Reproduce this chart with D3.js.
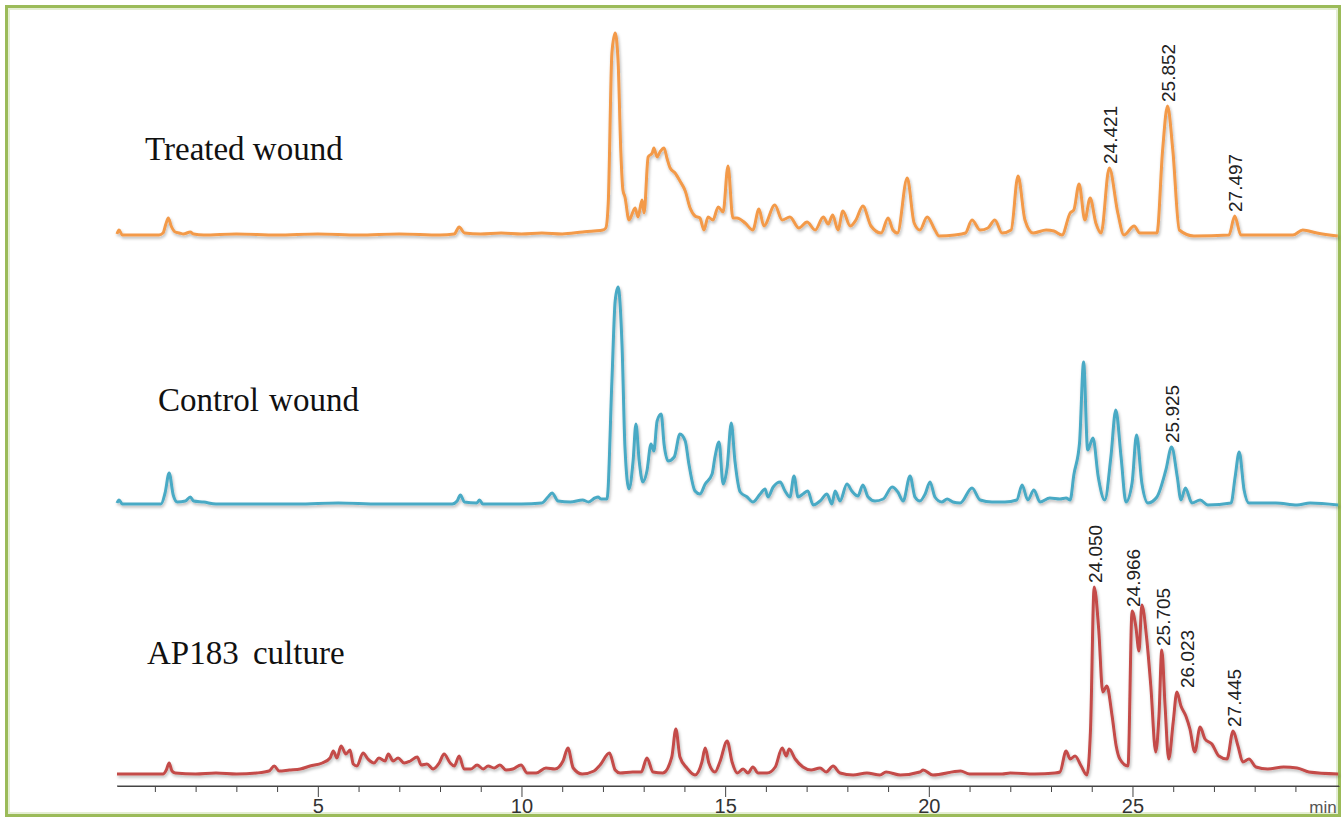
<!DOCTYPE html>
<html><head><meta charset="utf-8">
<script src="https://cdn.jsdelivr.net/npm/d3@7"></script>
<style>body{margin:0;background:#fff;} svg{display:block}</style>
</head><body><svg id="c" width="1344" height="820"></svg>
<script>
// ---- data (retention time in min, detector response in arbitrary units) ----
const sampleNames = ["Treated wound", "Control wound", "AP183 culture"];

const treated = [[0.07,2],[0.12,6],[0.2,1],[1.1,1],[1.2,3],[1.27,12],[1.33,18],[1.4,10],[1.5,4],[1.6,3],[1.7,2],[1.87,4],[1.95,2],[2.2,1],[3.0,2],[4.0,1],[5.0,2],[6.0,1],[7.0,2],[8.0,1],[8.35,2],[8.47,9],[8.6,3],[9.0,2],[9.5,3],[10.0,2],[10.5,3],[11.0,2],[11.5,4],[11.78,5],[12.0,6],[12.07,8],[12.13,33],[12.22,183],[12.30,203],[12.37,176],[12.44,83],[12.49,46],[12.54,39],[12.64,16],[12.79,28],[12.86,19],[12.96,36],[13.01,23],[13.11,79],[13.21,83],[13.25,88],[13.33,79],[13.40,84],[13.50,88],[13.57,78],[13.65,68],[13.77,63],[13.89,55],[14.02,45],[14.14,28],[14.26,20],[14.38,18],[14.48,6],[14.58,19],[14.70,16],[14.83,29],[14.95,24],[15.07,70],[15.19,18],[15.29,18],[15.49,13],[15.68,6],[15.83,27],[15.95,10],[16.22,31],[16.40,16],[16.59,19],[16.81,8],[17.01,14],[17.21,6],[17.41,19],[17.53,12],[17.64,21],[17.77,6],[17.89,25],[18.07,10],[18.21,16],[18.38,30],[18.58,10],[18.83,3],[19.00,18],[19.12,6],[19.23,3],[19.47,58],[19.64,13],[19.78,6],[19.96,19],[20.15,6],[20.25,0],[20.64,1],[20.9,3],[21.06,16],[21.26,6],[21.45,8],[21.62,16],[21.80,3],[22.02,6],[22.19,60],[22.36,16],[22.56,3],[22.88,6],[23.07,5],[23.27,1],[23.47,23],[23.56,26],[23.69,52],[23.83,16],[23.96,38],[24.10,13],[24.23,3],[24.43,68],[24.64,23],[24.79,1],[25.04,10],[25.18,3],[25.60,3],[25.74,86],[25.86,130],[25.99,86],[26.15,6],[26.51,0],[27.37,1],[27.51,20],[27.66,1],[28.94,1],[29.18,6],[29.53,3],[30.04,0]];

const control = [[0.07,2],[0.12,5],[0.2,1],[1.15,1],[1.25,12],[1.35,32],[1.45,10],[1.55,3],[1.75,4],[1.87,8],[1.95,4],[2.2,3],[2.5,1],[3.5,1],[4.5,1],[5.5,2],[6.5,1],[7.5,1],[8.3,1],[8.42,4],[8.5,10],[8.6,3],[8.9,2],[8.97,5],[9.05,1],[10.0,1],[10.5,2],[10.65,8],[10.75,12],[10.9,4],[11.2,3],[11.5,5],[11.65,3],[11.8,7],[11.88,8],[11.95,6],[12.10,6],[12.22,124],[12.30,204],[12.37,218],[12.47,158],[12.54,58],[12.64,16],[12.74,44],[12.81,81],[12.89,44],[12.98,23],[13.08,34],[13.18,61],[13.25,54],[13.33,84],[13.43,91],[13.50,61],[13.60,44],[13.75,48],[13.89,71],[14.02,64],[14.11,41],[14.26,14],[14.38,11],[14.51,21],[14.68,31],[14.75,48],[14.85,63],[14.95,21],[15.05,38],[15.15,82],[15.24,44],[15.37,13],[15.54,8],[15.68,3],[15.86,11],[15.98,16],[16.05,8],[16.18,18],[16.35,23],[16.47,14],[16.59,8],[16.69,29],[16.79,8],[16.91,11],[17.03,14],[17.16,0],[17.33,4],[17.50,11],[17.62,1],[17.70,14],[17.82,4],[17.99,21],[18.11,14],[18.26,9],[18.38,20],[18.51,8],[18.68,4],[18.88,6],[19.10,18],[19.24,13],[19.37,4],[19.54,29],[19.66,8],[19.78,4],[19.91,11],[20.03,23],[20.15,8],[20.32,3],[20.45,6],[20.59,3],[20.77,2],[21.06,17],[21.26,5],[21.55,3],[21.87,3],[22.16,5],[22.29,20],[22.43,5],[22.58,15],[22.73,3],[22.97,7],[23.22,6],[23.37,7],[23.47,5],[23.56,30],[23.70,62],[23.80,143],[23.90,55],[24.03,67],[24.16,28],[24.32,5],[24.47,48],[24.59,95],[24.72,48],[24.84,3],[24.99,22],[25.10,70],[25.23,22],[25.38,2],[25.60,8],[25.82,35],[25.96,58],[26.10,28],[26.19,5],[26.30,17],[26.46,2],[26.66,5],[26.85,0],[27.42,2],[27.52,28],[27.62,53],[27.74,15],[27.86,2],[28.52,2],[29.04,0],[29.36,2],[30.05,0]];

const culture = [[0.07,1],[1.2,1],[1.28,5],[1.35,12],[1.42,4],[1.5,2],[2.0,1],[2.5,2],[3.0,1],[3.5,2],[3.8,4],[3.93,9],[4.05,4],[4.3,5],[4.57,6],[4.81,9],[5.11,12],[5.30,17],[5.38,24],[5.47,17],[5.57,29],[5.69,21],[5.79,25],[5.87,11],[5.96,9],[6.11,22],[6.23,16],[6.38,12],[6.50,17],[6.65,14],[6.73,21],[6.85,14],[6.97,17],[7.12,12],[7.27,14],[7.44,18],[7.54,10],[7.68,11],[7.83,6],[7.98,12],[8.10,21],[8.25,12],[8.35,9],[8.47,19],[8.59,6],[8.76,6],[8.91,10],[9.06,6],[9.18,9],[9.33,7],[9.47,10],[9.62,5],[9.79,6],[9.99,10],[10.14,2],[10.36,2],[10.60,7],[10.82,6],[11.02,14],[11.14,27],[11.27,7],[11.49,1],[11.78,4],[11.93,10],[12.16,22],[12.30,5],[12.42,2],[12.73,3],[12.94,3],[13.08,17],[13.23,3],[13.47,2],[13.69,18],[13.79,46],[13.89,18],[14.06,7],[14.26,0],[14.43,13],[14.51,27],[14.60,12],[14.75,3],[14.87,13],[15.05,34],[15.17,13],[15.30,2],[15.44,6],[15.56,2],[15.68,8],[15.81,2],[16.03,2],[16.23,8],[16.40,27],[16.50,19],[16.57,26],[16.72,16],[16.91,8],[17.11,5],[17.33,7],[17.48,3],[17.65,9],[17.82,2],[18.14,0],[18.48,2],[18.80,0],[18.95,3],[19.30,0],[19.78,3],[19.86,5],[20.10,0],[20.78,4],[21.0,1],[21.8,1],[22.0,2],[22.6,1],[23.1,2],[23.22,3],[23.37,24],[23.47,16],[23.59,19],[23.74,9],[23.88,0],[23.97,46],[24.06,188],[24.17,146],[24.27,83],[24.37,89],[24.50,59],[24.60,29],[24.69,16],[24.89,9],[24.99,164],[25.08,149],[25.16,124],[25.23,170],[25.35,136],[25.45,89],[25.57,23],[25.65,59],[25.72,125],[25.80,69],[25.89,16],[26.0,53],[26.09,83],[26.19,69],[26.31,59],[26.41,46],[26.53,23],[26.66,48],[26.78,36],[26.95,31],[27.12,19],[27.32,16],[27.47,44],[27.59,29],[27.71,13],[27.86,16],[28.03,8],[28.32,6],[28.71,8],[29.04,7],[29.33,3],[30.05,1]];

const treatedPeaks = ["24.421", "25.852", "27.497"];
const controlPeaks = ["25.925"];
const culturePeaks = ["24.050", "24.966", "25.705", "26.023", "27.445"];

const minorTicks = [1,2,3,4,6,7,8,9,11,12,13,14,16,17,18,19,21,22,23,24,26,27,28,29];
const majorTicks = [5, 10, 15, 20, 25];
const axisUnit = "min";

// ---- layout ----
const svg = d3.select("#c");
const defs = svg.append("defs");
const f = defs.append("filter").attr("id","sh").attr("x","-5%").attr("y","-5%").attr("width","110%").attr("height","120%");
f.append("feDropShadow").attr("dx",1).attr("dy",2).attr("stdDeviation",1.5).attr("flood-color","#000").attr("flood-opacity",0.28);

svg.append("rect").attr("width",1344).attr("height",820).attr("fill","#fff");

// ---- frame ----
svg.append("rect").attr("x",9).attr("y",9).attr("width",1328).attr("height",804)
  .attr("fill","none").attr("stroke","#E4EED3").attr("stroke-width",2);
svg.append("rect").attr("x",6.5).attr("y",6.5).attr("width",1333).attr("height",809)
  .attr("fill","none").attr("stroke","#9BBB59").attr("stroke-width",3);

const x = d3.scaleLinear().domain([0.07, 30.07]).range([117, 1339]);

const panels = [
  {name: sampleNames[0], data: treated, peaks: treatedPeaks, color: "#F39A4A", base: 236, lx: 145, ly: 160, ws: 0},
  {name: sampleNames[1], data: control, peaks: controlPeaks, color: "#4AAAC5", base: 505, lx: 158, ly: 411, ws: 2},
  {name: sampleNames[2], data: culture, peaks: culturePeaks, color: "#C44B48", base: 775, lx: 147, ly: 664, ws: 6}
];

panels.forEach(p => {
  const y = d3.scaleLinear().domain([0, 220]).range([p.base, p.base - 220]);
  const line = d3.line().x(d => x(d[0])).y(d => y(d[1])).curve(d3.curveMonotoneX);
  svg.append("path").datum(p.data)
    .attr("d", line).attr("fill","none")
    .attr("stroke", p.color).attr("stroke-width", 3)
    .attr("stroke-linejoin","round").attr("filter","url(#sh)");

  svg.append("text").text(p.name)
    .attr("x", p.lx).attr("y", p.ly)
    .attr("font-family", "'Liberation Serif','Times New Roman',serif")
    .attr("font-size", 33).attr("fill", "#111")
    .style("word-spacing", p.ws + "px");

  let prevX = -Infinity;
  p.peaks.forEach(lbl => {
    const t = +lbl;
    const near = p.data.filter(d => Math.abs(d[0] - t) <= 0.12);
    const pk = near.reduce((a, b) => (b[1] > a[1] ? b : a));
    let bx = (x(t) + x(pk[0])) / 2 + 8;
    if (bx < prevX + 24) bx = prevX + 24;
    prevX = bx;
    svg.append("text").text(lbl)
      .attr("transform", `translate(${bx},${y(pk[1]) - 4}) rotate(-90)`)
      .attr("text-anchor","start")
      .attr("font-family","'Liberation Sans',Arial,sans-serif")
      .attr("font-size", 19).attr("fill","#222");
  });
});

// ---- axis ----
const axisY = 786;
const gMinor = svg.append("g").attr("transform",`translate(0,${axisY})`)
  .call(d3.axisBottom(x).tickValues(minorTicks).tickSize(6).tickFormat(""));
const gMajor = svg.append("g").attr("transform",`translate(0,${axisY})`)
  .call(d3.axisBottom(x).tickValues(majorTicks).tickSize(11).tickSizeOuter(0).tickPadding(2).tickFormat(d3.format("d")));
[gMinor, gMajor].forEach(g => {
  g.selectAll("path").attr("stroke","#444").attr("stroke-width",1);
  g.selectAll("line").attr("stroke","#444").attr("stroke-width",1);
  g.selectAll("text").attr("font-family","'Liberation Sans',Arial,sans-serif").attr("font-size",20).attr("fill","#333");
});
gMinor.select("path").attr("d", `M${x(0.07)},0H${x(30.07)}`);

svg.append("text").text(axisUnit).attr("x",1323).attr("y",813).attr("text-anchor","middle")
  .style("font-family","'Liberation Sans',Arial,sans-serif").style("font-size","17px").attr("fill","#555");
</script>
</body></html>
